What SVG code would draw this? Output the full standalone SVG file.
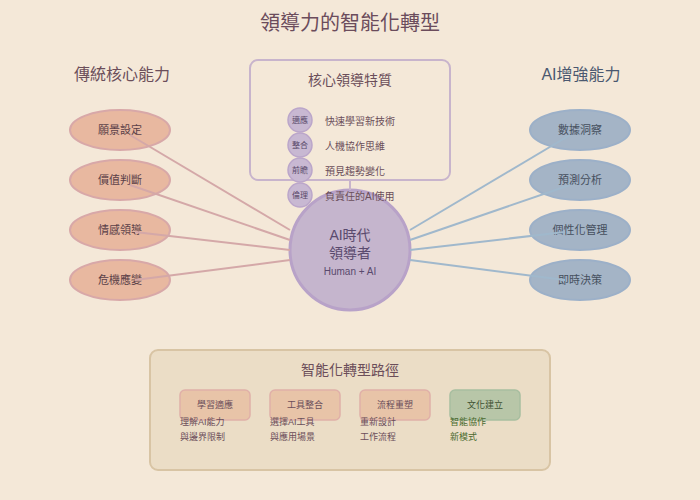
<svg xmlns="http://www.w3.org/2000/svg" width="700" height="500" viewBox="0 0 700 500">
<style>
text{font-family:"Liberation Sans","Noto Sans CJK TC",sans-serif;}
.title{font-size:20px;fill:#6B4C5C;text-anchor:middle;}
.head{font-size:16px;text-anchor:middle;}
.trad{fill:#E8B8A0;stroke:#D8A8A8;stroke-width:2;}
.ai{fill:#A4B4C6;stroke:#9CB0C8;stroke-width:2;}
.tradt{font-size:11px;fill:#5A4048;text-anchor:middle;}
.ait{font-size:11px;fill:#46505E;text-anchor:middle;}
.tl{stroke:#D4A8A8;stroke-width:2;}
.al{stroke:#A0B8CC;stroke-width:2;}
.dot{fill:#C8B8D2;stroke:#BBA6CA;stroke-width:1.5;}
.dott{font-size:8px;fill:#5A4A6A;text-anchor:middle;}
.item{font-size:10px;fill:#6B4E5A;}
.step{stroke-width:1.5;}
.stept{font-size:9px;text-anchor:middle;}
.sub{font-size:9px;}
.pl{stroke:#857090;stroke-width:2;}
</style>
<rect x="0" y="0" width="700" height="500" fill="#F4E8D8"/>
<text class="title" x="350" y="30">領導力的智能化轉型</text>
<text class="head" x="122" y="80" fill="#6B4E5A">傳統核心能力</text>
<text class="head" x="581" y="80" fill="#4A5870">AI增強能力</text>

<g id="core-box">
<rect x="250" y="60" width="200" height="120" rx="8" fill="#F4E8D8" stroke="#C8B4CC" stroke-width="2"/>
<text x="350" y="85" font-size="14" fill="#6B4E5A" text-anchor="middle">核心領導特質</text>
</g>

<g id="center">
<circle cx="350" cy="250" r="60" fill="#C5B5CD" stroke="#B8A2C8" stroke-width="3"/>
<text x="350" y="240" font-size="14" fill="#5A4A6E" text-anchor="middle">AI時代</text>
<text x="350" y="258" font-size="14" fill="#5A4A6E" text-anchor="middle">領導者</text>
<text x="350" y="275" font-size="10" fill="#5A4A6E" text-anchor="middle">Human + AI</text>
</g>

<g id="trait-adapt">
<circle class="dot" cx="300" cy="120" r="12"/>
<text class="dott" x="300" y="123">適應</text>
<text class="item" x="325" y="125">快速學習新技術</text>
</g>
<g id="trait-integrate">
<circle class="dot" cx="300" cy="145" r="12"/>
<text class="dott" x="300" y="148">整合</text>
<text class="item" x="325" y="150">人機協作思維</text>
</g>
<g id="trait-foresight">
<circle class="dot" cx="300" cy="170" r="12"/>
<text class="dott" x="300" y="173">前瞻</text>
<text class="item" x="325" y="175">預見趨勢變化</text>
</g>
<g id="trait-ethics">
<circle class="dot" cx="300" cy="195" r="12"/>
<text class="dott" x="300" y="198">倫理</text>
<text class="item" x="325" y="200">負責任的AI使用</text>
</g>

<g id="trad-vision"><ellipse class="trad" cx="120" cy="130" rx="50" ry="20"/><text class="tradt" x="120" y="134">願景設定</text></g>
<g id="trad-value"><ellipse class="trad" cx="120" cy="180" rx="50" ry="20"/><text class="tradt" x="120" y="184">價值判斷</text></g>
<g id="trad-emotion"><ellipse class="trad" cx="120" cy="230" rx="50" ry="20"/><text class="tradt" x="120" y="234">情感領導</text></g>
<g id="trad-crisis"><ellipse class="trad" cx="120" cy="280" rx="50" ry="20"/><text class="tradt" x="120" y="284">危機應變</text></g>

<g id="ai-data"><ellipse class="ai" cx="580" cy="130" rx="50" ry="20"/><text class="ait" x="580" y="134">數據洞察</text></g>
<g id="ai-predict"><ellipse class="ai" cx="580" cy="180" rx="50" ry="20"/><text class="ait" x="580" y="184">預測分析</text></g>
<g id="ai-personal"><ellipse class="ai" cx="580" cy="230" rx="50" ry="20"/><text class="ait" x="580" y="234">個性化管理</text></g>
<g id="ai-realtime"><ellipse class="ai" cx="580" cy="280" rx="50" ry="20"/><text class="ait" x="580" y="284">即時決策</text></g>

<g id="connectors">
<line x1="350" y1="180" x2="350" y2="190" stroke="#C8B4CC" stroke-width="2"/>
<line class="tl" x1="130" y1="135" x2="290" y2="230"/>
<line class="tl" x1="130" y1="185" x2="290" y2="240"/>
<line class="tl" x1="135" y1="232" x2="290" y2="250"/>
<line class="tl" x1="135" y1="280" x2="290" y2="260"/>
<line class="al" x1="570" y1="135" x2="410" y2="230"/>
<line class="al" x1="570" y1="185" x2="410" y2="240"/>
<line class="al" x1="565" y1="232" x2="410" y2="250"/>
<line class="al" x1="565" y1="280" x2="410" y2="260"/>
<line class="pl" x1="250" y1="405" x2="265" y2="405"/>
<line class="pl" x1="340" y1="405" x2="355" y2="405"/>
<line class="pl" x1="430" y1="405" x2="445" y2="405"/>
</g>

<g id="path-box">
<rect x="150" y="350" width="400" height="120" rx="8" fill="#EBDDC6" stroke="#D8C4A4" stroke-width="2"/>
<text x="350" y="375" font-size="14" fill="#6B4E5A" text-anchor="middle">智能化轉型路徑</text>
</g>
<g id="step-learn">
<rect class="step" x="180" y="390" width="70" height="30" rx="5" fill="#E8C4A8" stroke="#E0B0A8"/>
<text class="stept" x="215" y="408" fill="#6B4E5A">學習適應</text>
<text class="sub" x="180" y="425" fill="#6B4E5A">理解AI能力</text>
<text class="sub" x="180" y="440" fill="#6B4E5A">與邊界限制</text>
</g>
<g id="step-tools">
<rect class="step" x="270" y="390" width="70" height="30" rx="5" fill="#E8C4A8" stroke="#E0B0A8"/>
<text class="stept" x="305" y="408" fill="#6B4E5A">工具整合</text>
<text class="sub" x="270" y="425" fill="#6B4E5A">選擇AI工具</text>
<text class="sub" x="270" y="440" fill="#6B4E5A">與應用場景</text>
</g>
<g id="step-process">
<rect class="step" x="360" y="390" width="70" height="30" rx="5" fill="#E8C4A8" stroke="#E0B0A8"/>
<text class="stept" x="395" y="408" fill="#6B4E5A">流程重塑</text>
<text class="sub" x="360" y="425" fill="#6B4E5A">重新設計</text>
<text class="sub" x="360" y="440" fill="#6B4E5A">工作流程</text>
</g>
<g id="step-culture">
<rect class="step" x="450" y="390" width="70" height="30" rx="5" fill="#B8C6A8" stroke="#A8BEA0"/>
<text class="stept" x="485" y="408" fill="#3E5232">文化建立</text>
<text class="sub" x="450" y="425" fill="#4A6A2E">智能協作</text>
<text class="sub" x="450" y="440" fill="#4A6A2E">新模式</text>
</g>
</svg>
